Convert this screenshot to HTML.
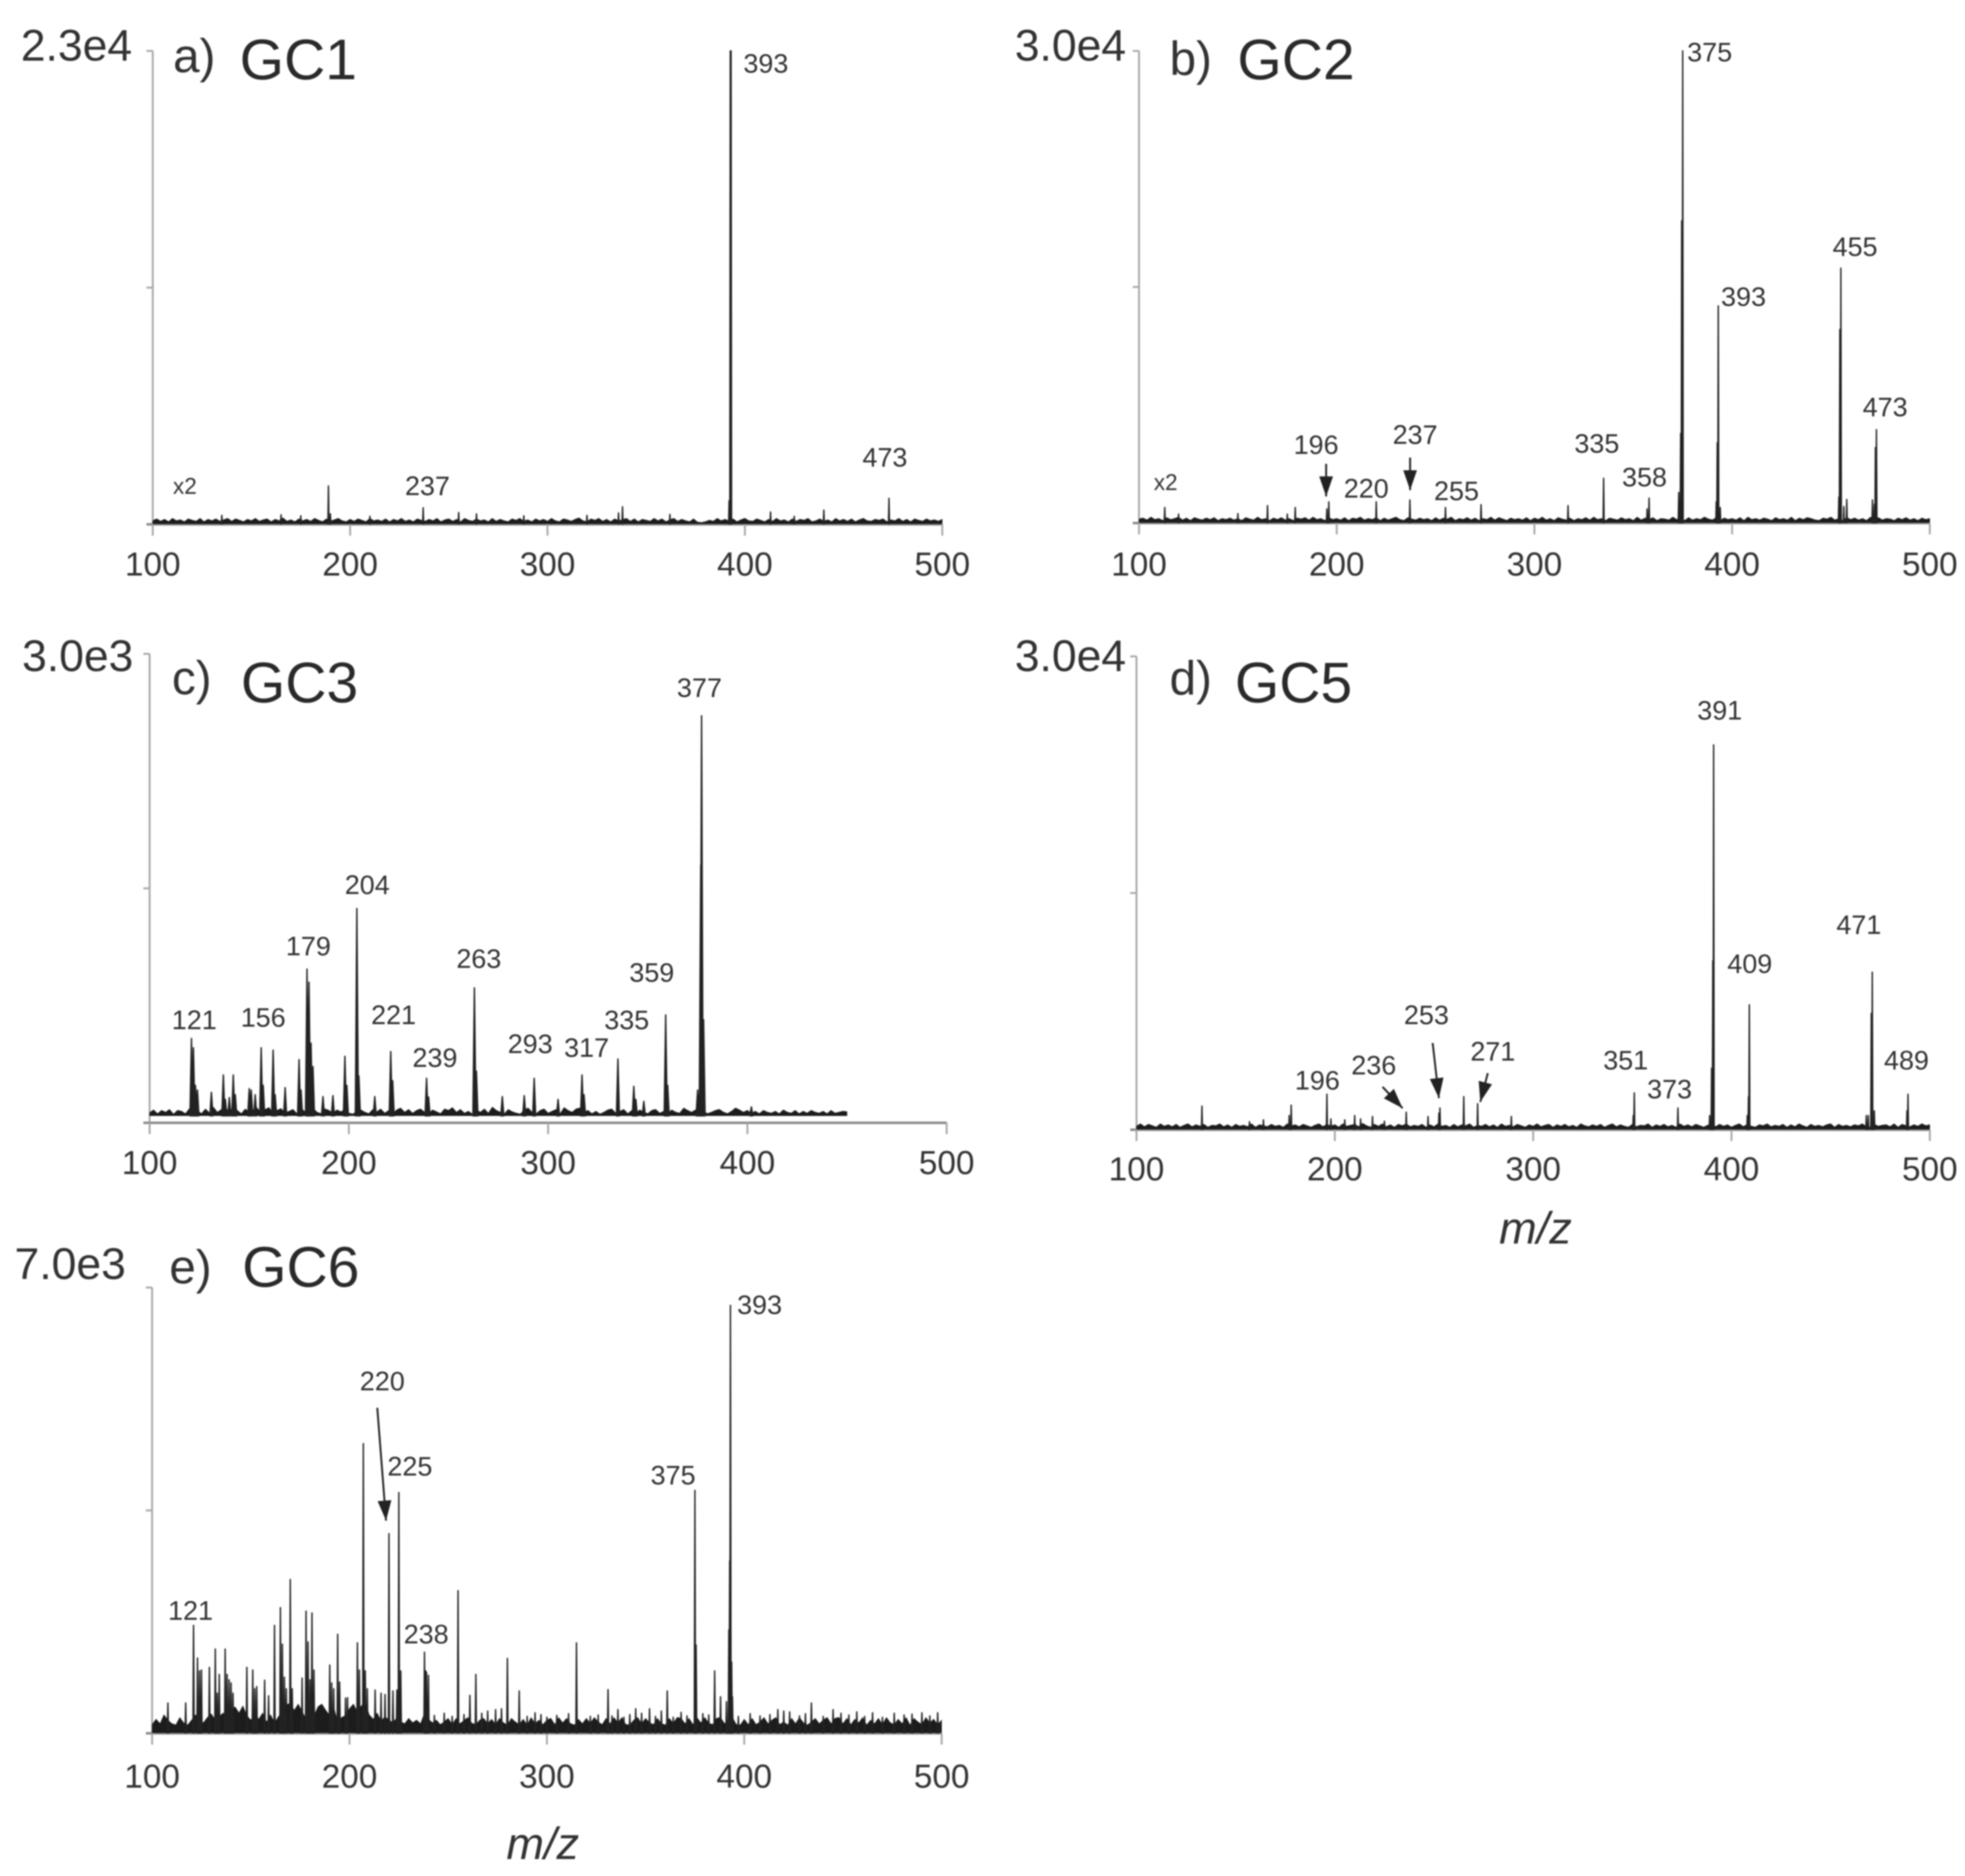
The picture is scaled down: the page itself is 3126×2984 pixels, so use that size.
<!DOCTYPE html>
<html lang="en">
<head>
<meta charset="utf-8">
<title>Mass spectra GC1–GC6</title>
<style>
html,body{margin:0;padding:0;background:#fff;}
#figure{display:block;width:3126px;height:2984px;filter:blur(1px);}
text{font-family:"Liberation Sans",sans-serif;fill:#333;text-anchor:middle;dominant-baseline:central;}
.pk{font-size:43px;}
.tk{font-size:53px;}
.ymax{font-size:71px;}
.letter{font-size:76px;}
.gc{font-size:91px;fill:#2a2a2a;}
.x2{font-size:36px;}
.mz{font-size:72px;font-style:italic;}
</style>
</head>
<body>
<svg id="figure" xmlns="http://www.w3.org/2000/svg" width="3126" height="2984" viewBox="0 0 3126 2984">
<defs>
<marker id="ah" markerUnits="userSpaceOnUse" markerWidth="34" markerHeight="24" refX="32" refY="11" orient="auto">
<path d="M0,0 L32,11 L0,22 Z" fill="#222"/>
</marker>
</defs>
<rect width="3126" height="2984" fill="#fff"/>
<g id="plots"></g>

<g transform="scale(0.997)">
<text class="ymax" x="122" y="72">2.3e4</text>
<text class="letter" x="310" y="90">a)</text>
<text class="gc" x="476" y="96">GC1</text>
<text class="pk" x="1222" y="102">393</text>
<text class="pk" x="682" y="776">237</text>
<text class="pk" x="1412" y="730">473</text>
<text class="x2" x="295" y="776">x2</text>
</g>

<g transform="scale(0.997)">
<text class="ymax" x="1708" y="72">3.0e4</text>
<text class="letter" x="1900" y="94">b)</text>
<text class="gc" x="2068" y="96">GC2</text>
<text class="pk" x="2728" y="84">375</text>
<text class="pk" x="2782" y="474">393</text>
<text class="pk" x="2960" y="394">455</text>
<text class="pk" x="3008" y="650">473</text>
<text class="pk" x="2100" y="710">196</text>
<text class="pk" x="2258" y="694">237</text>
<text class="pk" x="2180" y="780">220</text>
<text class="pk" x="2324" y="784">255</text>
<text class="pk" x="2548" y="708">335</text>
<text class="pk" x="2624" y="762">358</text>
<text class="x2" x="1860" y="770">x2</text>
<line x1="2116" y1="740" x2="2116" y2="792" stroke="#222" stroke-width="3" marker-end="url(#ah)"/>
<line x1="2250" y1="730" x2="2250" y2="782" stroke="#222" stroke-width="3" marker-end="url(#ah)"/>
</g>

<g transform="scale(0.997)">
<text class="ymax" x="124" y="1046">3.0e3</text>
<text class="letter" x="306" y="1082">c)</text>
<text class="gc" x="478" y="1090">GC3</text>
<text class="pk" x="1116" y="1098">377</text>
<text class="pk" x="586" y="1412">204</text>
<text class="pk" x="492" y="1510">179</text>
<text class="pk" x="764" y="1530">263</text>
<text class="pk" x="1040" y="1552">359</text>
<text class="pk" x="310" y="1628">121</text>
<text class="pk" x="420" y="1624">156</text>
<text class="pk" x="628" y="1620">221</text>
<text class="pk" x="1000" y="1628">335</text>
<text class="pk" x="694" y="1688">239</text>
<text class="pk" x="846" y="1666">293</text>
<text class="pk" x="936" y="1672">317</text>
</g>

<g transform="scale(0.997)">
<text class="ymax" x="1708" y="1046">3.0e4</text>
<text class="letter" x="1900" y="1082">d)</text>
<text class="gc" x="2064" y="1090">GC5</text>
<text class="pk" x="2744" y="1134">391</text>
<text class="pk" x="2792" y="1538">409</text>
<text class="pk" x="2966" y="1476">471</text>
<text class="pk" x="3042" y="1692">489</text>
<text class="pk" x="2594" y="1692">351</text>
<text class="pk" x="2664" y="1738">373</text>
<text class="pk" x="2102" y="1724">196</text>
<text class="pk" x="2192" y="1700">236</text>
<text class="pk" x="2276" y="1620">253</text>
<text class="pk" x="2382" y="1678">271</text>
<text class="mz" x="2450" y="1960">m/z</text>
<line x1="2206" y1="1734" x2="2238" y2="1768" stroke="#222" stroke-width="3" marker-end="url(#ah)"/>
<line x1="2286" y1="1664" x2="2296" y2="1752" stroke="#222" stroke-width="3" marker-end="url(#ah)"/>
<line x1="2374" y1="1712" x2="2362" y2="1758" stroke="#222" stroke-width="3" marker-end="url(#ah)"/>
</g>

<g transform="scale(0.997)">
<text class="ymax" x="112" y="2016">7.0e3</text>
<text class="letter" x="304" y="2022">e)</text>
<text class="gc" x="480" y="2022">GC6</text>
<text class="pk" x="1212" y="2082">393</text>
<text class="pk" x="1074" y="2354">375</text>
<text class="pk" x="610" y="2204">220</text>
<text class="pk" x="654" y="2340">225</text>
<text class="pk" x="680" y="2608">238</text>
<text class="pk" x="304" y="2570">121</text>
<text class="mz" x="866" y="2942">m/z</text>
<line x1="602" y1="2246" x2="616" y2="2426" stroke="#222" stroke-width="3" marker-end="url(#ah)"/>
</g>
</svg>

<script>
/* Shared axis tick labels */
const xTickLabels = [100, 200, 300, 400, 500];
const yTickFractions = [0, 50, 100];

/* Panel a: GC1 — peak m/z and relative intensity (%) */
const gc1PeakMz = [393, 392.6, 392, 189, 237, 473, 255, 264, 338, 336, 165, 362, 413, 440, 288, 190, 135, 175, 210, 320, 425];
const gc1PeakPct = [100, 100, 5, 8.1, 3.5, 5.5, 2.5, 2.2, 3.7, 2.4, 2.0, 2.1, 2.6, 3.0, 1.8, 2.2, 1.9, 1.8, 1.7, 1.9, 1.7];
const gc1NoiseStart = 100;
const gc1NoiseStep = 2;
const gc1Noise = [
0.8,1.2,0.7,1.1,0.6,1.3,0.8,1.0,0.6,1.2,0.9,0.7,1.3,0.6,1.1,0.8,1.2,0.7,1.0,1.3,0.7,1.2,0.9,0.6,1.1,
0.8,1.3,0.7,1.0,1.2,0.6,1.1,0.8,1.4,0.7,1.0,0.6,1.2,0.8,1.1,0.7,1.3,0.9,0.6,1.2,0.7,1.0,1.3,0.8,0.6,
1.1,0.7,1.2,0.9,0.6,1.3,0.8,1.0,0.7,1.2,0.6,1.1,0.8,1.3,0.7,1.0,0.6,1.2,0.9,0.7,1.1,0.8,1.3,0.6,1.0,
1.2,0.7,1.1,0.6,1.3,0.9,0.7,1.2,0.8,1.0,0.6,1.3,0.7,1.1,0.8,0.6,1.2,0.9,1.3,0.7,1.0,0.6,1.2,0.8,1.1,
0.7,1.3,0.8,0.6,1.2,1.0,0.7,1.1,1.4,0.8,0.6,1.2,0.9,1.3,0.7,1.1,0.6,1.2,0.8,1.0,1.3,0.7,1.2,0.6,1.1,
0.9,0.7,1.3,0.8,1.2,0.6,1.0,1.3,0.7,1.1,0.8,0.6,1.2,0.5,0.4,0.6,0.9,0.7,1.3,0.8,1.1,0.7,1.2,0.6,1.0,
1.3,0.8,0.7,1.2,0.9,0.6,1.1,0.7,1.3,0.8,1.0,0.6,1.2,0.7,1.1,0.9,1.3,0.6,0.8,1.2,0.7,1.0,0.6,1.3,0.8,
1.1,0.7,1.2,0.6,1.0,1.3,0.8,0.7,1.1,0.9,1.2,0.6,1.0,0.8,1.3,0.7,1.1,0.6,1.2,0.9,0.7,1.2,0.8,1.0,0.7,
1.1];

/* Panel b: GC2 */
const gc2PeakMz = [375, 374.5, 374, 373, 393, 392.5, 392, 394, 455, 454.5, 454, 458, 456.5, 473, 472.5, 472, 471, 335, 358, 357, 196, 195, 220, 237, 255, 273, 317, 113, 165, 179, 150, 120, 175];
const gc2PeakPct = [100, 64, 19, 6.5, 46, 17, 4.5, 3.3, 54, 41, 5.5, 5, 3.5, 19.8, 16, 4, 4.9, 9.5, 5.3, 3, 4.5, 3, 4.5, 4.9, 3.3, 3.9, 3.7, 3.3, 3.7, 3.3, 2, 1.9, 1.9];
const gc2NoiseStart = 100;
const gc2NoiseStep = 2;
const gc2Noise = [
0.9,1.1,0.7,1.3,0.8,1.0,0.6,1.2,0.8,1.0,1.3,0.7,1.1,0.6,1.2,0.9,0.7,1.1,0.8,1.2,0.6,1.0,0.8,1.1,0.7,
1.0,0.6,1.2,0.9,0.7,1.3,0.8,1.0,0.6,1.1,0.8,1.2,0.7,1.0,0.6,1.1,0.9,1.2,0.7,1.3,0.8,1.0,0.6,1.2,0.8,
1.0,0.7,1.2,0.6,1.1,0.9,1.3,0.7,1.0,0.8,1.2,0.6,1.1,0.7,1.0,1.3,0.8,0.6,1.2,0.9,0.7,1.1,0.8,1.0,0.6,
1.2,0.7,1.1,0.9,1.3,0.6,1.0,0.8,1.2,0.7,1.1,0.6,1.0,0.8,1.3,0.7,1.2,0.9,0.6,1.1,0.8,1.0,0.7,1.2,0.6,
1.1,0.8,1.3,0.7,1.0,0.6,1.2,0.9,0.7,1.1,0.6,1.0,0.8,1.2,0.7,1.3,0.8,1.0,0.6,1.1,0.9,0.7,1.2,0.8,1.0,
0.6,1.3,0.7,1.1,0.8,1.2,0.6,1.0,0.9,0.7,1.3,0.8,1.1,0.6,1.2,0.7,1.0,0.8,1.3,0.9,0.7,1.2,0.6,1.1,0.8,
1.0,0.7,1.2,0.6,1.3,0.8,1.0,0.7,1.1,0.9,0.6,1.2,0.8,1.0,0.7,1.3,0.6,1.1,0.8,1.2,1.0,0.7,0.6,1.1,0.9,
1.3,0.7,1.0,0.6,1.2,0.8,1.1,0.7,1.0,0.6,1.3,0.8,1.2,0.7,1.0,0.9,0.6,1.1,0.8,1.2,0.7,1.0,0.6,1.1,0.8,
1.0];

/* Panel c: GC3 (noise floats above the axis and stops near m/z 450) */
const gc3PeakMz = [377, 376.6, 378, 375, 204, 205, 179, 180, 181, 182, 263, 264, 359, 360, 121, 122, 123, 156, 157, 162, 163, 221, 222, 198, 199, 175, 176, 335, 317, 318, 293, 239, 240, 343, 344, 137, 138, 142, 143, 150, 151, 153, 124, 131, 168, 277, 288, 305, 213, 187, 192, 348, 140, 402];
const gc3PeakPct = [86.8, 55, 22, 7, 45.7, 10, 32.8, 30, 17, 12, 28.8, 11, 23, 8, 18, 16, 8, 16, 8, 15.5, 6, 15.2, 9, 14.2, 8, 13.5, 7, 13.6, 10.2, 6, 9.5, 9.5, 5.5, 7.8, 5, 10.2, 5, 10.2, 6, 7.3, 7, 6, 7, 6.5, 7.5, 5.6, 5.8, 5, 5.6, 5.6, 5.8, 4.6, 5.4, 3.4];
const gc3NoiseStart = 100;
const gc3NoiseStep = 2;
const gc3Noise = [
2.2,2.8,2.0,2.7,2.3,2.9,1.9,2.7,2.5,2.0,3.1,2.3,2.7,2.0,3.0,2.2,3.4,2.3,2.9,3.3,2.4,3.5,2.7,2.0,3.0,
2.3,2.8,3.2,2.1,2.9,3.3,2.0,2.7,3.1,2.1,2.5,2.9,2.0,3.2,2.4,2.7,3.2,2.3,2.0,3.0,2.7,2.1,2.8,2.4,2.9,
2.1,1.9,2.5,2.8,2.3,2.0,2.9,2.4,3.0,2.1,2.7,2.0,2.8,3.2,2.3,2.9,2.1,2.7,3.0,2.3,2.0,2.8,2.4,2.0,3.0,
2.7,3.3,2.3,2.9,2.1,2.5,1.9,2.8,2.3,3.0,2.1,3.4,2.7,2.3,2.0,2.9,2.4,2.1,1.9,2.8,3.2,2.3,2.0,2.7,3.0,
2.1,2.5,2.9,2.0,3.3,2.7,2.3,3.0,3.2,2.3,2.7,2.0,2.5,1.9,2.3,2.8,3.0,2.1,2.5,2.9,2.0,2.7,2.1,2.8,2.3,
2.0,2.7,2.9,2.1,2.5,2.0,2.8,2.3,2.1,3.2,2.7,2.3,2.8,2.1,2.5,2.0,2.3,2.7,2.9,2.3,2.0,2.5,3.2,2.8,2.3,
2.7,2.1,2.5,2.0,2.7,2.3,2.1,2.5,2.0,2.8,2.3,2.1,2.7,2.0,2.5,2.1,2.7,2.3,2.1,2.5,2.0,2.7,2.1,2.3,2.5,
2.4];

/* Panel d: GC5 */
const gc5PeakMz = [391, 390.6, 390, 389, 409, 408.6, 408, 471, 470.5, 469, 468, 472, 489, 488.5, 196, 351, 350.5, 373, 133, 178, 177, 265, 272, 236, 253, 252.5, 289, 247, 219, 210, 213, 164, 205, 198, 157, 225];
const gc5PeakPct = [81.3, 35.7, 13, 3, 26.4, 7, 3, 33.3, 24.6, 3, 3, 4, 7.5, 4, 7.5, 7.8, 3, 4.6, 5, 5.2, 3, 7, 5.5, 3.7, 4.6, 3.5, 2.8, 2.8, 2.8, 3, 2.3, 2.1, 2.1, 2.3, 1.7, 1.8];
const gc5NoiseStart = 100;
const gc5NoiseStep = 2;
const gc5Noise = [
0.8,1.3,0.7,1.2,0.9,0.6,1.3,0.8,1.1,0.7,1.2,0.6,1.0,1.3,0.7,1.1,0.8,1.2,0.6,1.0,0.9,1.3,0.7,1.1,0.6,
1.2,0.8,1.0,0.7,1.3,0.6,1.1,0.9,0.7,1.2,0.8,1.0,0.6,1.3,0.8,1.1,0.7,1.2,0.9,0.6,1.0,1.3,0.7,1.2,0.8,
1.1,0.6,1.3,0.8,1.0,1.2,0.7,1.4,0.9,0.6,1.2,0.8,1.3,0.7,1.1,0.6,1.2,0.9,1.3,0.7,1.0,0.8,1.2,0.6,1.1,
0.7,1.3,0.8,1.0,0.6,1.2,0.7,1.1,0.9,1.3,0.6,1.0,0.8,1.2,0.7,1.1,0.6,1.3,0.8,1.0,0.7,1.2,0.9,0.6,1.1,
0.8,1.3,0.7,1.0,1.2,0.6,1.1,0.8,1.2,0.7,1.0,0.6,1.3,0.9,0.7,1.1,0.8,1.2,0.6,1.0,1.3,0.7,1.1,0.8,0.6,
1.2,0.7,1.0,0.9,1.3,0.6,1.1,0.8,1.2,0.7,1.0,0.6,1.3,0.8,1.1,0.7,1.2,0.9,0.6,1.0,1.3,0.7,1.2,0.8,1.1,
0.6,1.0,1.3,0.7,1.2,0.8,0.6,1.1,0.9,1.3,0.7,1.0,0.8,1.2,0.6,1.1,0.7,1.3,0.9,0.6,1.2,0.8,1.0,0.7,1.1,
1.3,0.6,1.2,0.8,1.0,0.7,1.1,0.9,1.3,0.7,0.6,1.2,0.8,1.0,1.1,0.7,1.3,0.6,1.2,0.9,0.7,1.1,0.8,1.3,0.9,
1.1];

/* Panel e: GC6 (dense noise band) */
const gc6PeakMz = [393, 392.6, 392.2, 393.6, 391, 394, 375, 375.6, 207, 208, 220, 225, 226, 121, 123, 124, 125, 129, 132, 133, 134, 137, 138, 139, 140, 141, 148, 151, 152, 153, 157, 159, 162, 165, 166, 167, 168, 170, 171, 176, 178, 179, 180, 181, 182, 190, 191, 192, 194, 195, 198, 199, 204, 205, 209, 213, 216, 218, 222, 224, 238, 238.6, 239, 240, 255, 261, 264, 270, 274, 277, 280, 286, 315, 331, 336, 345, 352, 358, 361, 368, 385, 388, 434, 417, 420, 445, 457, 108, 117, 243, 248, 252, 258, 267, 290, 294, 297, 300, 305, 311, 322, 326, 333, 339, 342, 348, 355, 364, 371, 379, 382, 397, 403, 408, 413, 423, 428, 431, 440, 449, 453, 461, 465, 470, 476, 481, 485, 490, 494, 498];
const gc6PeakPct = [96, 38.7, 23.2, 16, 7.1, 8.2, 54.5, 19.8, 65, 14, 44.8, 54, 14, 24.2, 16.9, 14, 14.2, 14.8, 18.9, 9, 13.2, 18.9, 13.2, 12, 11.3, 9, 14.8, 14.2, 10, 10.5, 11.9, 8.4, 24.2, 28.2, 20, 12.6, 10, 34.5, 10, 12.4, 27.4, 20.5, 12, 27, 14.2, 15.3, 11.3, 10, 22.2, 11.5, 7.9, 8, 20.3, 14.2, 10, 9.7, 9, 8.7, 9.5, 9.7, 18.2, 14, 13.7, 13, 32, 8.5, 13.2, 5, 5.3, 5.5, 16.8, 9.5, 20.3, 9.8, 5.3, 5.5, 5.5, 5, 9.5, 4.7, 14, 8.2, 6.8, 5.3, 5, 5.3, 4.8, 6.8, 6.8, 4, 4.5, 3.8, 4.2, 4.5, 3.8, 4.6, 4.2, 3.6, 4, 4.4, 3.8, 4.1, 3.9, 3.6, 4.2, 4.5, 3.8, 3.6, 3.9, 4.4, 4.1, 3.8, 4.4, 3.9, 4.2, 4.8, 3.9, 4.4, 3.8, 4.5, 4.1, 3.8, 4.6, 3.6, 4.5, 4.1, 4.3, 4.6, 3.9, 4.6];
const gc6NoiseStart = 100;
const gc6NoiseStep = 2;
const gc6Noise = [
2.0,3.2,2.2,4.2,3.0,2.2,1.9,3.6,2.4,1.9,3.0,4.2,3.0,2.4,3.6,4.4,3.0,3.8,4.6,3.8,5.0,6.0,4.6,6.2,4.0,
3.0,4.4,3.2,4.6,2.6,4.2,2.4,3.8,5.0,6.4,6.8,5.2,6.6,5.0,3.2,5.6,4.0,6.0,6.6,5.2,4.0,6.0,2.6,3.6,4.0,
5.6,6.6,4.8,6.2,7.0,4.2,3.2,4.6,2.8,3.8,3.0,2.4,3.6,2.6,2.2,3.4,2.4,3.0,2.2,4.6,3.2,2.4,3.0,2.0,2.6,
3.4,2.0,3.4,2.2,2.9,3.6,2.3,2.0,3.0,3.4,2.2,3.2,2.0,3.4,2.4,1.9,3.4,2.6,2.0,3.2,1.9,3.6,2.2,3.0,2.0,
3.0,3.4,2.0,3.6,2.4,3.4,2.2,1.9,3.2,2.2,3.4,2.3,3.6,2.6,2.0,3.4,2.2,3.6,2.4,3.6,2.0,1.9,3.0,3.6,2.2,
3.4,2.4,2.0,3.4,2.2,1.9,3.4,2.3,3.6,3.4,2.2,3.4,2.0,3.6,2.4,3.6,2.3,2.0,3.4,3.6,2.2,3.0,3.6,2.0,1.9,
3.2,2.0,3.4,2.0,2.6,3.6,2.2,3.0,3.6,2.0,2.6,1.9,3.4,2.2,3.6,2.4,1.9,2.6,3.4,2.2,3.0,3.6,2.2,3.4,3.6,
2.2,3.4,2.0,3.2,2.4,3.6,1.9,3.0,2.2,3.4,2.0,3.6,2.4,2.0,3.2,2.2,3.6,1.9,3.4,2.6,2.0,3.6,2.4,3.2,2.0,
3.0];

const SVGNS = 'http://www.w3.org/2000/svg';
const plots = document.getElementById('plots');

function xScale(p, mz) { return p.x0 + (mz - 100) / 400 * (p.x1 - p.x0); }
function yScale(p, v) { return p.base - v / 100 * (p.base - p.top); }

function mk(tag, attrs, parent) {
  const el = document.createElementNS(SVGNS, tag);
  for (const k in attrs) el.setAttribute(k, attrs[k]);
  parent.appendChild(el);
  return el;
}

function drawPanel(p, peakMz, peakPct, noise, noiseStart, noiseStep) {
  const g = mk('g', {}, plots);
  
  

  /* y axis */
  const ya = mk('line', {x1: p.x0, x2: p.x0, y1: p.top, y2: p.base, stroke: '#a8a8a8', 'stroke-width': 3}, g);
  
  
  yTickFractions.forEach(function (f) {
    const t = mk('line', {x1: p.x0 - 10, x2: p.x0, y1: yScale(p, f), y2: yScale(p, f), stroke: '#a8a8a8', 'stroke-width': 3}, g);
    
    
  });

  /* x axis */
  const xa = mk('line', {x1: p.x0 - 10, x2: p.x1, y1: p.base, y2: p.base, stroke: '#8c8c8c', 'stroke-width': 4}, g);
  
  
  xTickLabels.forEach(function (v) {
    const x = xScale(p, v);
    const t = mk('line', {x1: x, x2: x, y1: p.base, y2: p.base + 18, stroke: '#a8a8a8', 'stroke-width': 3}, g);
    
    
    const l = mk('text', {x: x, y: p.tickY, class: 'tk'}, g);
    l.textContent = String(v);
    
    
  });

  /* noise band */
  const floorY = yScale(p, p.floor);
  const pts = [];
  noise.forEach(function (v, i) {
    pts.push(xScale(p, noiseStart + i * noiseStep).toFixed(1) + ',' + yScale(p, v).toFixed(1));
  });
  const lastX = xScale(p, noiseStart + (noise.length - 1) * noiseStep).toFixed(1);
  const band = mk('polygon', {points: p.x0 + ',' + floorY + ' ' + pts.join(' ') + ' ' + lastX + ',' + floorY, fill: '#1c1c1c', stroke: '#1c1c1c', 'stroke-width': 0.5}, g);
  
  

  /* peaks: a narrow triangle from the floor to the apex */
  peakMz.forEach(function (mz, i) {
    const x = xScale(p, mz);
    const yTop = yScale(p, peakPct[i]);
    const pointsStr = (x - p.skirt).toFixed(1) + ',' + floorY.toFixed(1) + ' ' + x.toFixed(1) + ',' + yTop.toFixed(1) + ' ' + (x + p.skirt).toFixed(1) + ',' + floorY.toFixed(1);
    const s = mk('polygon', {points: pointsStr, fill: '#222', stroke: '#222', 'stroke-width': p.stem, 'stroke-linejoin': 'round'}, g);
    
    
  });
}

drawPanel({id: 'gc1', x0: 243, x1: 1499, top: 81, base: 834, tickY: 898, floor: 0.1, stem: 2.2, skirt: 0.8}, gc1PeakMz, gc1PeakPct, gc1Noise, gc1NoiseStart, gc1NoiseStep);
drawPanel({id: 'gc2', x0: 1812, x1: 3070, top: 81, base: 832, tickY: 898, floor: 0.1, stem: 2.2, skirt: 0.8}, gc2PeakMz, gc2PeakPct, gc2Noise, gc2NoiseStart, gc2NoiseStep);
drawPanel({id: 'gc3', x0: 238, x1: 1506, top: 1040, base: 1786, tickY: 1850, floor: 1.5, stem: 2.2, skirt: 2.4}, gc3PeakMz, gc3PeakPct, gc3Noise, gc3NoiseStart, gc3NoiseStep);
drawPanel({id: 'gc5', x0: 1808, x1: 3070, top: 1044, base: 1797, tickY: 1860, floor: 0.1, stem: 2.2, skirt: 0.8}, gc5PeakMz, gc5PeakPct, gc5Noise, gc5NoiseStart, gc5NoiseStep);
drawPanel({id: 'gc6', x0: 242, x1: 1498, top: 2048, base: 2757, tickY: 2826, floor: 0.1, stem: 2.2, skirt: 1}, gc6PeakMz, gc6PeakPct, gc6Noise, gc6NoiseStart, gc6NoiseStep);
</script>
</body>
</html>
